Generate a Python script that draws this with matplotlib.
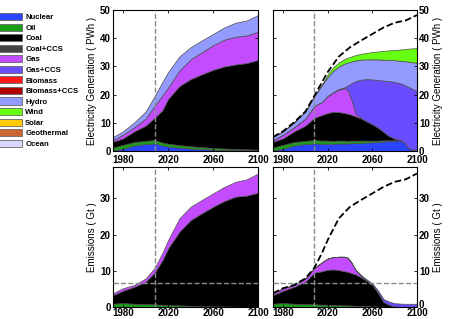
import matplotlib.pyplot as plt
from matplotlib.patches import Patch
from matplotlib.transforms import ScaledTranslation

plt.rcParams['font.family'] = ['Liberation Sans', 'DejaVu Sans']
plt.rcParams['font.weight'] = 'bold'
plt.rcParams['font.size'] = 7

# Technologies (legend order = stacking order)
tech_names = ['Nuclear', 'Oil', 'Coal', 'Coal+CCS', 'Gas', 'Gas+CCS',
              'Biomass', 'Biomass+CCS', 'Hydro', 'Wind', 'Solar',
              'Geothermal', 'Ocean']
tech_colors = ['#2a44ff', '#1a9e1a', '#000000', '#444444', '#c34cff',
               '#6a4cff', '#ff1a1a', '#b00000', '#949bff', '#66ff11',
               '#ffcc00', '#cc6633', '#d8d8ff']

# Baseline scenario (left column)
base_years = [1971, 1980, 1990, 2000, 2008, 2015, 2020, 2030, 2040, 2050,
              2060, 2070, 2080, 2090, 2100]
base_nuclear = [0.3, 0.8, 2.0, 2.5, 2.7, 2.0, 1.6, 1.2, 0.9, 0.7, 0.5, 0.4,
                0.3, 0.3, 0.3]
base_oil = [0.9, 1.4, 1.2, 1.1, 1.2, 1.0, 1.0, 0.9, 0.8, 0.7, 0.6, 0.5, 0.4,
            0.3, 0.2]
base_coal = [2.1, 2.3, 3.8, 5.4, 7.9, 11.5, 15.9, 20.9, 23.8, 25.8, 27.7,
             29.1, 30.0, 30.6, 31.8]
base_gas = [0.6, 1.3, 1.5, 2.5, 4.2, 5.3, 4.0, 5.5, 7.0, 7.8, 8.7, 9.5, 9.8,
            9.8, 10.0]
base_hydro = [1.1, 1.2, 1.7, 2.5, 3.5, 4.7, 5.5, 5.0, 4.3, 4.2, 4.0, 4.3, 5.0,
              5.3, 5.9]

base_em_oil = [0.9, 1.1, 0.9, 0.8, 0.75, 0.6, 0.55, 0.45, 0.35, 0.25, 0.2,
               0.15, 0.1, 0.05, 0.0]
base_em_coal = [2.4, 3.4, 4.7, 6.2, 8.75, 12.4, 15.65, 20.35, 23.65, 25.65,
                27.5, 29.15, 30.4, 30.75, 31.6]
base_em_gas = [0.5, 0.7, 0.5, 0.9, 1.3, 2.0, 2.3, 3.7, 3.7, 3.7, 3.7, 3.9,
               4.1, 4.5, 5.3]

# Alternative scenario (right column)
alt_years = [1971, 1980, 1990, 2000, 2008, 2015, 2020, 2025, 2030, 2035,
             2038, 2041, 2045, 2050, 2055, 2060, 2065, 2070, 2075, 2080,
             2085, 2088, 2092, 2096, 2100]
alt_nuclear = [0.3, 0.8, 2.0, 2.5, 2.7, 2.6, 2.6, 2.6, 2.7, 2.7, 2.7, 2.8,
               2.8, 2.9, 3.0, 3.1, 3.2, 3.4, 3.5, 3.7, 3.8, 3.2, 1.2, 0.4,
               0.2]
alt_oil = [0.9, 1.4, 1.2, 1.1, 1.2, 1.1, 1.1, 1.0, 1.0, 1.0, 0.9, 0.9, 0.9,
           0.8, 0.7, 0.6, 0.5, 0.4, 0.3, 0.15, 0.0, 0.0, 0.0, 0.0, 0.0]
alt_coal = [2.1, 2.3, 3.8, 5.4, 7.9, 9.1, 9.8, 10.3, 10.1, 9.8, 9.6, 9.2,
            8.6, 7.8, 6.8, 5.8, 4.6, 3.0, 1.5, 0.55, 0.1, 0.0, 0.0, 0.0, 0.0]
alt_gas = [0.6, 1.3, 1.5, 2.5, 4.2, 4.7, 6.0, 6.9, 8.0, 8.8, 8.3, 5.6, 1.0,
           0.2, 0.0, 0.0, 0.0, 0.0, 0.0, 0.0, 0.0, 0.0, 0.0, 0.0, 0.0]
alt_gas_ccs = [0.0, 0.0, 0.0, 0.0, 0.0, 0.0, 0.1, 0.1, 0.2, 0.3, 1.7, 5.5,
               11.5, 13.6, 15.0, 15.9, 16.9, 18.2, 19.5, 20.1, 20.1, 20.4,
               21.6, 21.6, 21.1]
alt_hydro = [1.1, 1.2, 1.7, 2.5, 3.5, 6.0, 6.7, 7.6, 8.0, 8.4, 8.2, 7.7, 7.3,
             7.1, 7.0, 7.1, 7.3, 7.4, 7.5, 7.7, 8.0, 8.3, 8.9, 9.5, 10.0]
alt_wind = [0.0, 0.0, 0.0, 0.0, 0.0, 0.2, 0.9, 1.2, 1.4, 1.6, 1.7, 1.8, 1.9,
            2.1, 2.3, 2.6, 2.8, 3.1, 3.4, 3.6, 4.0, 4.2, 4.6, 4.9, 5.2]

alt_em_oil = [0.9, 1.1, 0.9, 0.8, 0.75, 0.65, 0.6, 0.55, 0.5, 0.45, 0.45,
              0.4, 0.35, 0.3, 0.25, 0.2, 0.15, 0.1, 0.05, 0.0, 0.0, 0.0, 0.0,
              0.0, 0.0]
alt_em_coal = [2.4, 3.4, 4.7, 6.2, 8.75, 9.25, 9.7, 9.85, 9.7, 9.45, 9.25,
               9.0, 8.65, 7.9, 6.95, 5.9, 3.85, 1.3, 0.55, 0.15, 0.05, 0.0,
               0.0, 0.0, 0.0]
alt_em_gas = [0.5, 0.7, 0.5, 0.9, 1.3, 2.5, 3.1, 3.4, 3.7, 4.0, 3.9, 3.0,
              1.2, 0.4, 0.1, 0.0, 0.0, 0.0, 0.0, 0.0, 0.0, 0.0, 0.0, 0.0, 0.0]
alt_em_gas_ccs = [0.0, 0.0, 0.0, 0.0, 0.0, 0.0, 0.0, 0.0, 0.0, 0.0, 0.0, 0.05,
                  0.1, 0.2, 0.3, 0.4, 0.6, 0.8, 0.9, 0.9, 0.9, 0.9, 0.9, 0.9,
                  0.9]

present_year = 2008
emission_target = 6.7

col = dict(zip(tech_names, tech_colors))
base_gen_total = [sum(v) for v in zip(base_nuclear, base_oil, base_coal,
                                      base_gas, base_hydro)]
base_em_total = [sum(v) for v in zip(base_em_oil, base_em_coal, base_em_gas)]

fig = plt.figure(figsize=(4.49, 3.19), dpi=100)
ax_gl = fig.add_axes([0.2517, 0.5266, 0.3229, 0.4420])
ax_gr = fig.add_axes([0.6080, 0.5266, 0.3207, 0.4420])
ax_el = fig.add_axes([0.2517, 0.0376, 0.3229, 0.4389])
ax_er = fig.add_axes([0.6080, 0.0376, 0.3207, 0.4389])

edge = dict(edgecolor='0.3', linewidth=0.5)

ax_gl.stackplot(base_years, base_nuclear, base_oil, base_coal, base_gas,
                base_hydro,
                colors=[col['Nuclear'], col['Oil'], col['Coal'], col['Gas'],
                        col['Hydro']], **edge)
ax_gr.stackplot(alt_years, alt_nuclear, alt_oil, alt_coal, alt_gas,
                alt_gas_ccs, alt_hydro, alt_wind,
                colors=[col['Nuclear'], col['Oil'], col['Coal'], col['Gas'],
                        col['Gas+CCS'], col['Hydro'], col['Wind']], **edge)
ax_gr.plot(base_years, base_gen_total, '--', color='k', lw=1.3, zorder=5)

ax_el.stackplot(base_years, base_em_oil, base_em_coal, base_em_gas,
                colors=[col['Oil'], col['Coal'], col['Gas']], **edge)
ax_er.stackplot(alt_years, alt_em_oil, alt_em_coal, alt_em_gas,
                alt_em_gas_ccs,
                colors=[col['Oil'], col['Coal'], col['Gas'],
                        col['Gas+CCS']], **edge)
ax_er.plot(base_years, base_em_total, '--', color='k', lw=1.3, zorder=5)

for ax in (ax_el, ax_er):
    ax.axhline(emission_target, color='0.55', ls='--', lw=1.0, zorder=4)

for ax in (ax_gl, ax_gr, ax_el, ax_er):
    ax.axvline(present_year, color='0.55', ls='--', lw=1.0, zorder=4)
    ax.set_xlim(1971, 2100)
    ax.set_xticks([1980, 2020, 2060, 2100])
    ax.tick_params(direction='in', top=True, right=True, length=2.5,
                   width=0.6, pad=1.5, labelsize=7)
    for s in ax.spines.values():
        s.set_linewidth(0.8)

# top row labels sit a bit lower; bottom row must still fit in the figure
for ax in (ax_gl, ax_gr):
    ax.tick_params(axis='x', pad=3.2)
for ax in (ax_el, ax_er):
    ax.tick_params(axis='x', pad=1.0)

for ax in (ax_gl, ax_gr):
    ax.set_ylim(0, 50)
    ax.set_yticks([0, 10, 20, 30, 40, 50])
for ax in (ax_el, ax_er):
    ax.set_ylim(0, 38.7)
    ax.set_yticks([0, 10, 20, 30])

for ax in (ax_gr, ax_er):
    ax.yaxis.tick_right()
    ax.yaxis.set_label_position('right')
    ax.tick_params(left=True, right=True, direction='in')

# nudge the right-hand "0" up so it clears the "2100" below it
nudge = ScaledTranslation(0, 2.5 / 72, fig.dpi_scale_trans)
zero_lbl = ax_er.get_yticklabels()[0]
zero_lbl.set_transform(zero_lbl.get_transform() + nudge)

ax_gl.set_ylabel('Electricity Generation ( PWh )', fontsize=7, labelpad=2)
ax_gr.set_ylabel('Electricity Generation ( PWh )', fontsize=7, labelpad=2)
ax_el.set_ylabel('Emissions ( Gt )', fontsize=7, labelpad=2)
ax_er.set_ylabel('Emissions ( Gt )', fontsize=7, labelpad=2)

handles = [Patch(facecolor=c, edgecolor='0.4', linewidth=0.6)
           for c in tech_colors]
fig.legend(handles, tech_names, loc='upper left',
           bbox_to_anchor=(-0.005, 0.964), frameon=False, fontsize=5.6,
           handlelength=2.96, handleheight=1.03, handletextpad=0.38,
           labelspacing=0.3, borderpad=0.2, borderaxespad=0.0)

fig.savefig('out.png', dpi=100)
